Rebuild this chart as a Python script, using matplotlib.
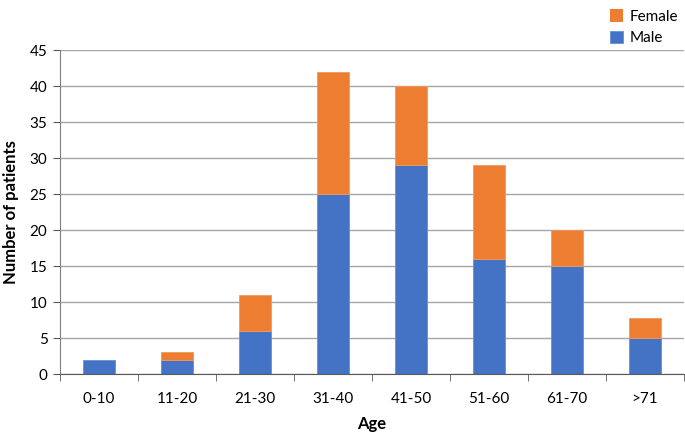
import matplotlib
matplotlib.use("Agg")
import matplotlib.pyplot as plt
import numpy as np

plt.rcParams["font.family"] = ["Lato", "DejaVu Sans"]

ages = ["0-10", "11-20", "21-30", "31-40", "41-50", "51-60", "61-70", ">71"]
male = [2, 2, 6, 25, 29, 16, 15, 5]
female = [0, 1, 5, 17, 11, 13, 5, 2.8]

BLUE = "#4472C4"
ORANGE = "#ED7D31"
GRID = "#A6A6A6"

fig = plt.figure(figsize=(6.85, 4.32), dpi=100)
ax = fig.add_axes([60 / 685, 1 - 374 / 432, 624 / 685, 324 / 432])

x = np.arange(len(ages))
ax.bar(x, male, width=0.4, color=BLUE, label="Male", zorder=3,
       edgecolor="#6A8FD4", linewidth=0.6)
# no outline on empty segments (0-10 has no female patients)
ax.bar(x, female, width=0.4, bottom=male, color=ORANGE, label="Female", zorder=3,
       edgecolor="#F29A5C", linewidth=[0.6 if f > 0 else 0 for f in female])

ax.set_xlim(-0.5, len(ages) - 0.5)
ax.set_ylim(0, 45)
ax.set_yticks(range(0, 46, 5))
ax.set_xticks(x)
ax.set_xticklabels(ages)
ax.set_xticks(np.arange(-0.5, len(ages), 1), minor=True)
ax.tick_params(axis="x", which="major", length=0, pad=13, labelsize=11)
ax.tick_params(axis="x", which="minor", length=5, color="#595959", direction="out")
ax.tick_params(axis="y", length=5, color="#595959", labelsize=11, pad=4)

ax.grid(axis="y", color=GRID, linewidth=1, zorder=0)
for s in ["top", "right"]:
    ax.spines[s].set_visible(False)
ax.spines["left"].set_color("#7F7F7F")
ax.spines["bottom"].set_color("#595959")
ax.spines["left"].set_zorder(4)
ax.spines["bottom"].set_zorder(4)

ax.set_xlabel("Age", fontweight="bold", fontsize=12, labelpad=7)
ax.set_ylabel("Number of patients", fontweight="bold", fontsize=12, labelpad=8)

handles, labels = ax.get_legend_handles_labels()
ax.legend(handles[::-1], labels[::-1], loc="upper right",
          bbox_to_anchor=(1.0, 1.145), frameon=False, fontsize=11,
          handlelength=0.9, handleheight=0.9, handletextpad=0.4,
          labelspacing=0.45, borderaxespad=0)

fig.savefig("out.png", dpi=100)
